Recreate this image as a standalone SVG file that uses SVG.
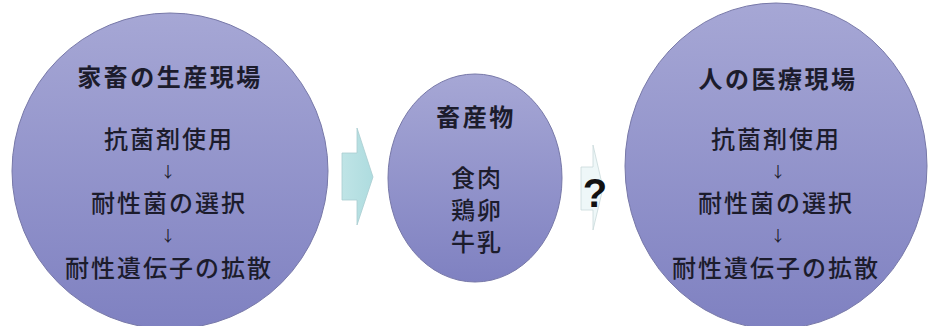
<svg xmlns="http://www.w3.org/2000/svg" width="928" height="326" viewBox="0 0 928 326">
<defs>
<linearGradient id="g" x1="0" y1="0" x2="0" y2="1">
<stop offset="0" stop-color="#a6a7d5"/>
<stop offset="1" stop-color="#7f81c1"/>
</linearGradient>
<linearGradient id="ga" x1="0" y1="0" x2="1" y2="0">
<stop offset="0" stop-color="#bfe4e6"/>
<stop offset="1" stop-color="#aedcdf"/>
</linearGradient>
</defs>
<style>
.bub{fill:url(#g);stroke:#7778a8;stroke-width:1}
text{font-family:"Noto Sans CJK JP","Noto Sans",sans-serif;fill:#1c1c2c;text-anchor:middle;dominant-baseline:central}
.t{font-size:24px;font-weight:700;letter-spacing:2.5px}
.b{font-size:24px;letter-spacing:2px;font-weight:500}
.ar{font-size:15px}
</style>
<rect width="928" height="326" fill="#ffffff"/>
<g id="connectors">
<polygon points="342,153 357,153 357,128 373,177 357,225 357,200 342,200" fill="url(#ga)" stroke="#a9cdd0" stroke-width="0.8"/>
<polygon points="581,167 593,167 593,145 603,188 593,230 593,210 581,210" fill="#eef7f8" stroke="#c9d9db" stroke-width="0.8"/>
<text x="595" y="193" style="font-family:'Liberation Sans',Arial,sans-serif;font-size:40px;font-weight:700;fill:#111">?</text>
</g>
<g id="farm">
<circle class="bub" cx="170" cy="171" r="158"/>
<text class="t" x="170" y="75">家畜の生産現場</text>
<text class="b" x="169" y="137">抗菌剤使用</text>
<text class="ar" x="168" y="170">↓</text>
<text class="b" x="169" y="201">耐性菌の選択</text>
<text class="ar" x="168" y="234">↓</text>
<text class="b" x="169" y="266">耐性遺伝子の拡散</text>
</g>
<g id="products">
<ellipse class="bub" cx="475" cy="178" rx="87" ry="104"/>
<text class="t" x="476" y="115">畜産物</text>
<text class="b" x="477" y="176">食肉</text>
<text class="b" x="477" y="208">鶏卵</text>
<text class="b" x="477" y="240">牛乳</text>
</g>
<g id="medical">
<ellipse class="bub" cx="776" cy="166" rx="151" ry="163"/>
<text class="t" x="778" y="77">人の医療現場</text>
<text class="b" x="776" y="137">抗菌剤使用</text>
<text class="ar" x="778" y="170">↓</text>
<text class="b" x="776" y="201">耐性菌の選択</text>
<text class="ar" x="778" y="234">↓</text>
<text class="b" x="776" y="266">耐性遺伝子の拡散</text>
</g>
</svg>
